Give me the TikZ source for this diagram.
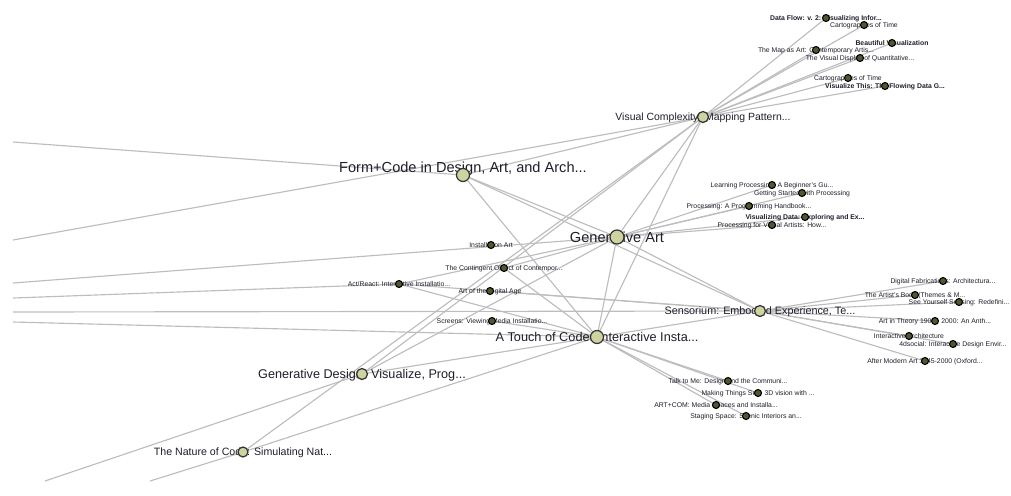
\documentclass[tikz,border=0pt]{standalone}
\usepackage{fontspec}
\setmainfont{Liberation Sans}

\definecolor{hubfill}{HTML}{CFD3A0}
\definecolor{bookfill}{HTML}{55552F}
\definecolor{linkgray}{HTML}{BDBDBD}
\definecolor{ink}{HTML}{1E1E2A}

\pgfdeclarelayer{links}
\pgfdeclarelayer{titles}
\pgfsetlayers{links,titles,main}

\tikzset{
  book/.style={shape=circle, draw=black, fill=bookfill, line width=0.6pt,
    inner sep=0pt, minimum size=0.14cm},
  hub/.style={shape=circle, draw=black!80, fill=hubfill, line width=0.7pt,
    inner sep=0pt, minimum size=#1},
  title/.style={text=ink, inner sep=0pt, anchor=base, yshift=-0.35*#1pt,
    font=\fontsize{#1pt}{#1pt}\selectfont},
  small/.style={title=3.9},
  smallbold/.style={title=3.9, font=\fontsize{3.9pt}{3.9pt}\selectfont\bfseries},
  link/.style={draw=linkgray, line width=0.65pt},
}

\begin{document}
\begin{tikzpicture}[x=0.02cm, y=-0.02cm]
          \useasboundingbox (0,0) rectangle (1011,495);

          % hubs
          \node[hub=0.22cm] at (703,117) (vc) {};
          \node[hub=0.26cm] at (463,175) (fc) {};
          \node[hub=0.28cm] at (617,237) (ga) {};
          \node[hub=0.22cm] at (760,311) (sens) {};
          \node[hub=0.26cm] at (597,337) (atc) {};
          \node[hub=0.22cm] at (362,374) (gd) {};
          \node[hub=0.20cm] at (243,452) (noc) {};

          % books round visual complexity
          \node[book] at (826, 18) (df) {};
          \node[book] at (864, 25) (carta) {};
          \node[book] at (892, 43) (beaut) {};
          \node[book] at (816, 50) (mapart) {};
          \node[book] at (860, 58) (visdisp) {};
          \node[book] at (848, 78) (cartb) {};
          \node[book] at (885, 86) (vizthis) {};

          % books round generative art
          \node[book] at (772,185) (learn) {};
          \node[book] at (802,193) (getting) {};
          \node[book] at (749,206) (proghb) {};
          \node[book] at (805,217) (vizdata) {};
          \node[book] at (772,225) (procva) {};

          % installation books
          \node[book] at (491,245) (instal) {};
          \node[book] at (504,268) (conting) {};
          \node[book] at (399,284) (actreact) {};
          \node[book] at (490,291) (digage) {};
          \node[book] at (492,321) (screens) {};

          % books round sensorium
          \node[book] at (943,281) (digfab) {};
          \node[book] at (915,295) (body) {};
          \node[book] at (959,302) (seeself) {};
          \node[book] at (935,321) (theory) {};
          \node[book] at (909,336) (interarch) {};
          \node[book] at (953,344) (social) {};
          \node[book] at (925,361) (aftermod) {};

          % books round a touch of code
          \node[book] at (728,381) (talk) {};
          \node[book] at (758,393) (making) {};
          \node[book] at (716,405) (artcom) {};
          \node[book] at (746,416) (staging) {};

          % loose ends
          \coordinate (w1) at (13,142);
          \coordinate (w2) at (13,240);
          \coordinate (w3) at (13,283);
          \coordinate (w4) at (13,298);
          \coordinate (w5) at (13,312);
          \coordinate (w6) at (13,322);
          \coordinate (s1) at (45,481);
          \coordinate (s2) at (150,481);

          % titles
          \begin{pgfonlayer}{titles}
          \node[title=5.95] at (vc) {Visual Complexity: Mapping Pattern...};
          \node[title=8.3, yshift=0.16cm] at (fc) {Form+Code in Design, Art, and Arch...};
          \node[title=8.3] at (ga) {Generative Art};
          \node[title=6.15] at (sens) {Sensorium: Embodied Experience, Te...};
          \node[title=7.25] at (atc) {A Touch of Code: Interactive Insta...};
          \node[title=7.2] at (gd) {Generative Design: Visualize, Prog...};
          \node[title=6.05] at (noc) {The Nature of Code: Simulating Nat...};

          \node[smallbold] at (df) {Data Flow: v. 2: Visualizing Infor...};
          \node[small] at (carta) {Cartographies of Time};
          \node[smallbold] at (beaut) {Beautiful Visualization};
          \node[small] at (mapart) {The Map as Art: Contemporary Artis...};
          \node[small] at (visdisp) {The Visual Display of Quantitative...};
          \node[small] at (cartb) {Cartographies of Time};
          \node[smallbold] at (vizthis) {Visualize This: The Flowing Data G...};

          \node[small] at (learn) {Learning Processing: A Beginner's Gu...};
          \node[small] at (getting) {Getting Started with Processing};
          \node[small] at (proghb) {Processing: A Programming Handbook...};
          \node[smallbold] at (vizdata) {Visualizing Data: Exploring and Ex...};
          \node[small] at (procva) {Processing for Visual Artists: How...};

          \node[small] at (instal) {Installation Art};
          \node[small] at (conting) {The Contingent Object of Contempor...};
          \node[small] at (actreact) {Act/React: Interactive Installatio...};
          \node[small] at (digage) {Art of the Digital Age};
          \node[small] at (screens) {Screens: Viewing Media Installatio...};

          \node[small] at (digfab) {Digital Fabrications: Architectura...};
          \node[small] at (body) {The Artist's Body (Themes \& M...};
          \node[small] at (seeself) {See Yourself Sensing: Redefini...};
          \node[small] at (theory) {Art in Theory 1900 - 2000: An Anth...};
          \node[small] at (interarch) {Interactive Architecture};
          \node[small] at (social) {4dsocial: Interactive Design Envir...};
          \node[small] at (aftermod) {After Modern Art 1945-2000 (Oxford...};

          \node[small] at (talk) {Talk to Me: Design and the Communi...};
          \node[small] at (making) {Making Things See: 3D vision with ...};
          \node[small] at (artcom) {ART+COM: Media Spaces and Installa...};
          \node[small] at (staging) {Staging Space: Scenic Interiors an...};
          \end{pgfonlayer}

          % links
          \begin{pgfonlayer}{links}
          \draw[link]
          (vc) edge (df)   (vc) edge (carta)   (vc) edge (beaut)
          (vc) edge (mapart) (vc) edge (visdisp) (vc) edge (cartb)
          (vc) edge (vizthis)
          (vc) edge (w2)   (vc) edge (fc)   (vc) edge (ga)
          (vc) edge (atc)  (vc) edge (noc)  (vc) edge (gd)
          ;
          \draw[link]
          (ga) edge (learn)  (ga) edge (getting) (ga) edge (proghb)
          (ga) edge (vizdata) (ga) edge (procva)
          (ga) edge (w3)  (ga) edge (fc)  (ga) edge (atc)
          (ga) edge (sens) (ga) edge (actreact) (ga) edge (conting)
          (ga) edge (gd)
          ;
          \draw[link]
          (sens) edge (digfab) (sens) edge (body) (sens) edge (seeself)
          (sens) edge (theory) (sens) edge (interarch) (sens) edge (social)
          (sens) edge (aftermod)
          (sens) edge (w5)  (sens) edge (fc)  (sens) edge (atc)
          (sens) edge (digage) (sens) edge (actreact)
          ;
          \draw[link]
          (atc) edge (talk) (atc) edge (making) (atc) edge (artcom)
          (atc) edge (staging)
          (atc) edge (w6)  (atc) edge (fc)  (atc) edge (screens)
          (atc) edge (actreact) (atc) edge (conting) (atc) edge (noc)
          (atc) edge (gd)
          ;
          \draw[link]
          (fc) edge (w1)
          (actreact) edge (w4)
          (gd) edge (s1)
          (noc) edge (s2)
          ;
          \end{pgfonlayer}
        \end{tikzpicture}
\end{document}
